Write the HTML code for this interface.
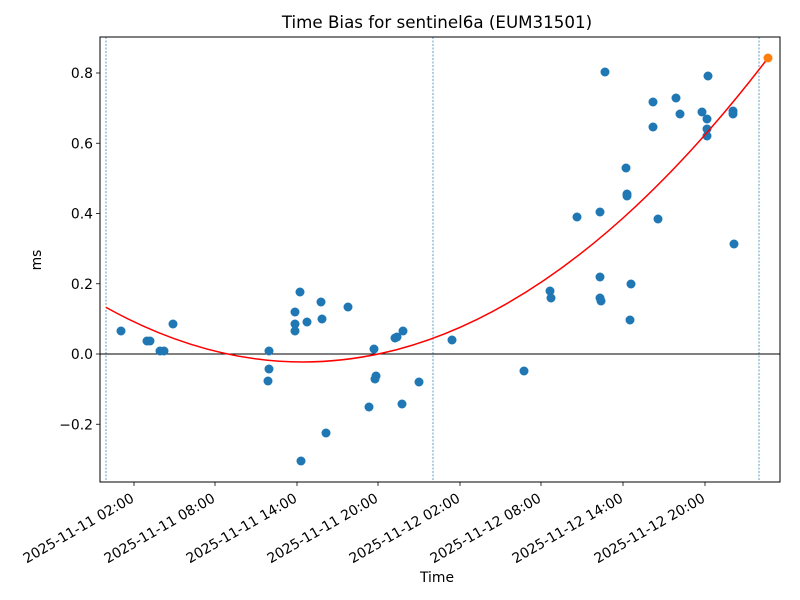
<!DOCTYPE html>
<html><head><meta charset="utf-8"><style>
html,body{margin:0;padding:0;background:#fff;}
svg{display:block;font-family:"DejaVu Sans","Liberation Sans",sans-serif;}
</style></head><body>
<svg width="800" height="600" viewBox="0 0 800 600" xmlns="http://www.w3.org/2000/svg">
<rect width="800" height="600" fill="#fff"/>
<text x="437" y="28" font-size="16.7" text-anchor="middle" fill="#000">Time Bias for sentinel6a (EUM31501)</text>
<defs><clipPath id="c"><rect x="100" y="37" width="680" height="445"/></clipPath></defs>
<g clip-path="url(#c)">
<line x1="106" y1="37" x2="106" y2="482" stroke="#1f77b4" stroke-width="0.7" stroke-dasharray="2,1.5"/>
<line x1="433" y1="37" x2="433" y2="482" stroke="#1f77b4" stroke-width="0.7" stroke-dasharray="2,1.5"/>
<line x1="759" y1="37" x2="759" y2="482" stroke="#1f77b4" stroke-width="0.7" stroke-dasharray="2,1.5"/>
<line x1="100" y1="354" x2="780" y2="354" stroke="#000" stroke-width="0.8" shape-rendering="crispEdges"/>
<g fill="#1f77b4">
<circle cx="121" cy="331" r="4.5"/><circle cx="147" cy="341" r="4.5"/><circle cx="150" cy="341" r="4.5"/><circle cx="160" cy="351" r="4.5"/><circle cx="164" cy="351" r="4.5"/><circle cx="173" cy="324" r="4.5"/><circle cx="268" cy="381" r="4.5"/><circle cx="269" cy="351" r="4.5"/><circle cx="269" cy="369" r="4.5"/><circle cx="295" cy="312" r="4.5"/><circle cx="295" cy="324" r="4.5"/><circle cx="295" cy="331" r="4.5"/><circle cx="300" cy="292" r="4.5"/><circle cx="307" cy="322" r="4.5"/><circle cx="321" cy="302" r="4.5"/><circle cx="322" cy="319" r="4.5"/><circle cx="326" cy="433" r="4.5"/><circle cx="301" cy="461" r="4.5"/><circle cx="348" cy="307" r="4.5"/><circle cx="369" cy="407" r="4.5"/><circle cx="374" cy="349" r="4.5"/><circle cx="375" cy="379" r="4.5"/><circle cx="376" cy="376" r="4.5"/><circle cx="395" cy="338" r="4.5"/><circle cx="397" cy="337" r="4.5"/><circle cx="402" cy="404" r="4.5"/><circle cx="403" cy="331" r="4.5"/><circle cx="419" cy="382" r="4.5"/><circle cx="452" cy="340" r="4.5"/><circle cx="524" cy="371" r="4.5"/><circle cx="550" cy="291" r="4.5"/><circle cx="551" cy="298" r="4.5"/><circle cx="577" cy="217" r="4.5"/><circle cx="600" cy="212" r="4.5"/><circle cx="600" cy="277" r="4.5"/><circle cx="600" cy="298" r="4.5"/><circle cx="601" cy="301" r="4.5"/><circle cx="605" cy="72" r="4.5"/><circle cx="626" cy="168" r="4.5"/><circle cx="627" cy="196" r="4.5"/><circle cx="627" cy="194" r="4.5"/><circle cx="631" cy="284" r="4.5"/><circle cx="630" cy="320" r="4.5"/><circle cx="653" cy="102" r="4.5"/><circle cx="653" cy="127" r="4.5"/><circle cx="658" cy="219" r="4.5"/><circle cx="676" cy="98" r="4.5"/><circle cx="680" cy="114" r="4.5"/><circle cx="702" cy="112" r="4.5"/><circle cx="707" cy="119" r="4.5"/><circle cx="708" cy="76" r="4.5"/><circle cx="707" cy="129" r="4.5"/><circle cx="707" cy="136" r="4.5"/><circle cx="733" cy="111" r="4.5"/><circle cx="733" cy="114" r="4.5"/><circle cx="734" cy="244" r="4.5"/>
</g>
<path d="M106,307.4 Q437,490.8 768,58" fill="none" stroke="#ff0000" stroke-width="1.5"/>
<circle cx="768" cy="58" r="4.5" fill="#ff7f0e"/>
</g>
<rect x="100" y="37" width="680" height="445" fill="none" stroke="#000" stroke-width="1"/>
<g stroke="#000" stroke-width="0.8">
<line x1="100" y1="73" x2="96" y2="73"/><line x1="100" y1="143.25" x2="96" y2="143.25"/><line x1="100" y1="213.5" x2="96" y2="213.5"/><line x1="100" y1="283.75" x2="96" y2="283.75"/><line x1="100" y1="354" x2="96" y2="354"/><line x1="100" y1="424.25" x2="96" y2="424.25"/>
<line x1="134" y1="482" x2="134" y2="486"/><line x1="215" y1="482" x2="215" y2="486"/><line x1="297" y1="482" x2="297" y2="486"/><line x1="378" y1="482" x2="378" y2="486"/><line x1="460" y1="482" x2="460" y2="486"/><line x1="541" y1="482" x2="541" y2="486"/><line x1="623" y1="482" x2="623" y2="486"/><line x1="705" y1="482" x2="705" y2="486"/>
</g>
<g font-size="13.9" text-anchor="end" fill="#000">
<text x="93" y="78">0.8</text><text x="93" y="148.25">0.6</text><text x="93" y="218.5">0.4</text><text x="93" y="288.75">0.2</text><text x="93" y="359">0.0</text><text x="93" y="429.25">−0.2</text>
</g>
<g font-size="13.9" text-anchor="end" fill="#000">
<text transform="translate(135,501) rotate(-30)">2025-11-11 02:00</text>
<text transform="translate(216,501) rotate(-30)">2025-11-11 08:00</text>
<text transform="translate(298,501) rotate(-30)">2025-11-11 14:00</text>
<text transform="translate(379,501) rotate(-30)">2025-11-11 20:00</text>
<text transform="translate(461,501) rotate(-30)">2025-11-12 02:00</text>
<text transform="translate(542,501) rotate(-30)">2025-11-12 08:00</text>
<text transform="translate(624,501) rotate(-30)">2025-11-12 14:00</text>
<text transform="translate(706,501) rotate(-30)">2025-11-12 20:00</text>
</g>
<text x="437" y="582" font-size="13.9" text-anchor="middle">Time</text>
<text transform="translate(41,260) rotate(-90)" font-size="13.9" text-anchor="middle">ms</text>
</svg>
</body></html>
